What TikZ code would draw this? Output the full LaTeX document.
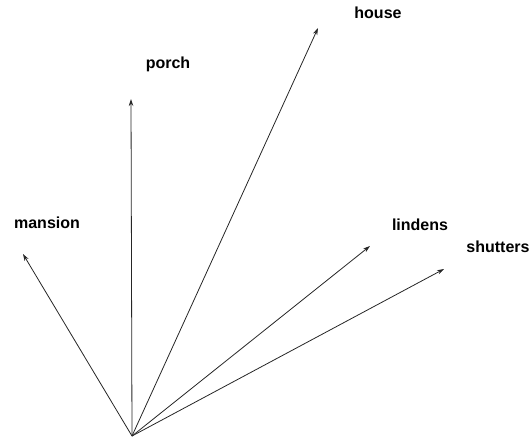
\documentclass[tikz,border=0pt]{standalone}
\usepackage{fontspec}
\setmainfont{Liberation Sans}
\usetikzlibrary{arrows.meta}

\begin{document}
\begin{tikzpicture}[x=1pt,y=-1pt,
    word/.style={font=\fontsize{16}{18}\selectfont\bfseries},
    vec/.style={thick, black!85, -{Stealth[length=7pt,width=4.5pt]}}]
    \useasboundingbox (0,0) rectangle (532,440);

    \coordinate (o) at (132,436);

    \coordinate (mansiontip) at (23,254);
    \coordinate (porchtip) at (131,99);
    \coordinate (housetip) at (318,28);
    \coordinate (lindenstip) at (370,246);
    \coordinate (shutterstip) at (444,269);

    \node[word] (mansion) at (47,223) {mansion};
    \node[word] (porch) at (168,64) {porch};
    \node[word] (house) at (378,13) {house};
    \node[word] (lindens) at (420,225) {lindens};
    \node[word] (shutters) at (498,247) {shutters};

    \draw[vec] (o) -- (mansiontip);
    \draw[vec] (o) -- (porchtip);
    \draw[vec] (o) -- (housetip);
    \draw[vec] (o) -- (lindenstip);
    \draw[vec] (o) -- (shutterstip);

\end{tikzpicture}
\end{document}
